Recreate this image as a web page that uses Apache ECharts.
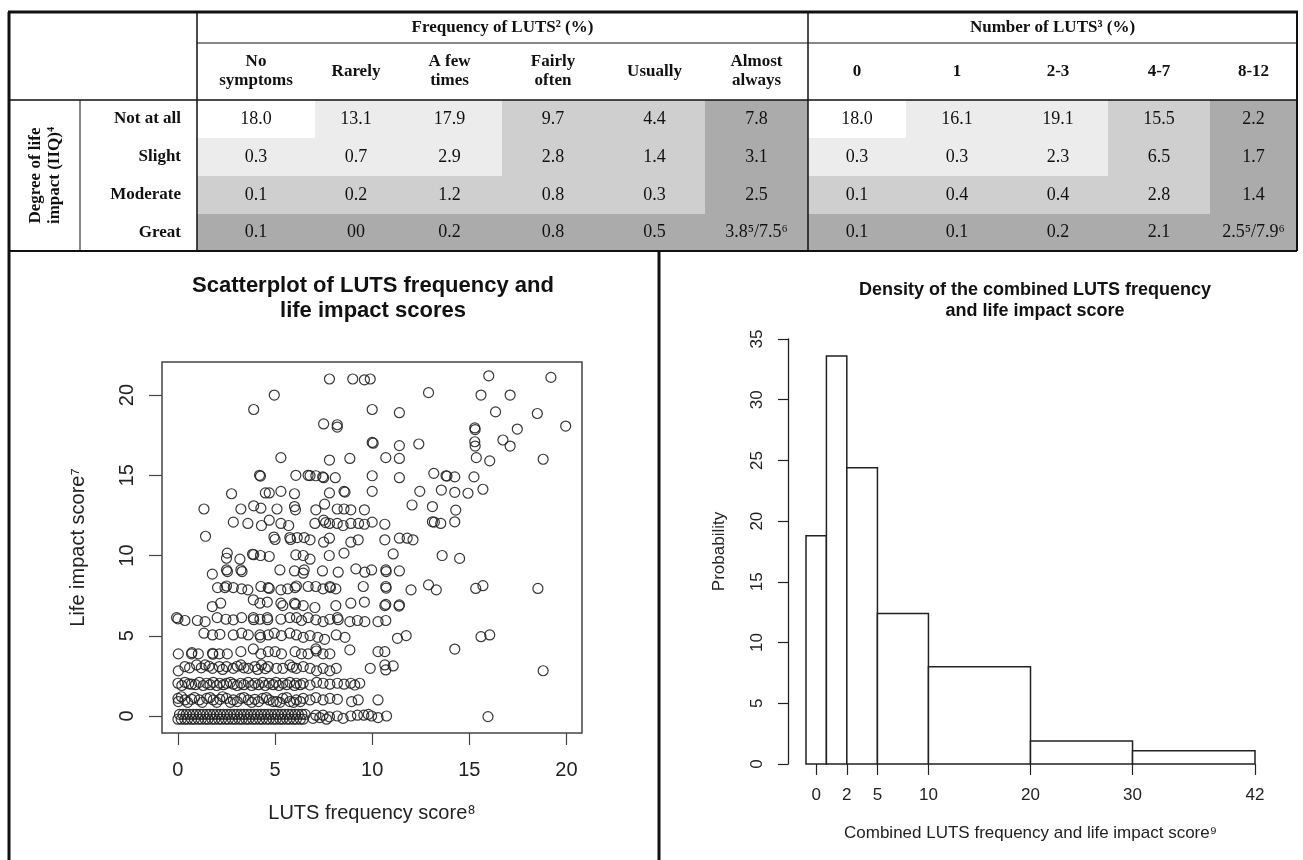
<!DOCTYPE html>
<html lang="en">
<head>
<meta charset="UTF-8">
<title>LUTS frequency and life impact</title>
<style>
    * { margin: 0; padding: 0; }
    html, body { width: 100%; height: 100%; background: #fff; }
    #main { width: 1303px; height: 860px; }
</style>
<script src="https://cdn.jsdelivr.net/npm/echarts@6/dist/echarts.min.js"></script>
</head>
<body>
<div id="main"></div>
<script>
// ---- table data ----
var freqGroupTitle = 'Frequency of LUTS² (%)';
var numGroupTitle = 'Number of LUTS³ (%)';
var freqHeaders = ['No\nsymptoms', 'Rarely', 'A few\ntimes', 'Fairly\noften', 'Usually', 'Almost\nalways'];
var numHeaders = ['0', '1', '2-3', '4-7', '8-12'];
var impactTitle = 'Degree of life\nimpact (IIQ)⁴';
var impactLevels = ['Not at all', 'Slight', 'Moderate', 'Great'];
var freqValues = [
    ['18.0', '13.1', '17.9', '9.7', '4.4', '7.8'],
    ['0.3', '0.7', '2.9', '2.8', '1.4', '3.1'],
    ['0.1', '0.2', '1.2', '0.8', '0.3', '2.5'],
    ['0.1', '00', '0.2', '0.8', '0.5', '3.8⁵/7.5⁶']
];
var numValues = [
    ['18.0', '16.1', '19.1', '15.5', '2.2'],
    ['0.3', '0.3', '2.3', '6.5', '1.7'],
    ['0.1', '0.4', '0.4', '2.8', '1.4'],
    ['0.1', '0.1', '0.2', '2.1', '2.5⁵/7.9⁶']
];
// shading level of each cell (0 = none ... 3 = darkest)
var freqShade = [[0, 1, 1, 2, 2, 3], [1, 1, 1, 2, 2, 3], [2, 2, 2, 2, 2, 3], [3, 3, 3, 3, 3, 3]];
var numShade = [[0, 1, 1, 2, 3], [1, 1, 1, 2, 3], [2, 2, 2, 2, 3], [3, 3, 3, 3, 3]];

// ---- scatterplot data (LUTS frequency score, life impact score) ----
var scatterTitle = 'Scatterplot of LUTS frequency and\nlife impact scores';
var scatterXName = 'LUTS frequency score⁸';
var scatterYName = 'Life impact score⁷';
var scatterXTicks = [0, 5, 10, 15, 20];
var scatterYTicks = [0, 5, 10, 15, 20];
var scatterPoints = [
    [7.8, 21.0], [9.0, 21.0], [9.6, 20.95], [9.9, 21.0], [4.96, 20.0], [12.9, 20.15], [16.0, 21.2], [19.2, 21.1], [15.6, 20.0], [17.1, 20.0],
    [3.9, 19.1], [10.0, 19.1], [11.4, 18.9], [16.35, 18.95], [18.5, 18.85],
    [7.5, 18.2], [8.2, 18.15], [8.2, 18.0], [15.28, 17.95], [15.3, 17.85], [17.47, 17.88], [19.96, 18.07],
    [10.0, 17.05], [10.05, 17.0], [11.4, 16.85], [12.4, 16.95], [15.28, 17.09], [15.3, 16.82], [16.73, 17.2], [17.1, 16.82],
    [5.3, 16.1], [7.8, 15.95], [8.85, 16.05], [10.7, 16.1], [11.4, 16.05], [15.36, 16.1], [16.05, 15.9], [18.8, 16.0],
    [4.2, 15.0], [4.25, 14.95], [6.07, 15.0], [6.7, 15.0], [6.8, 14.98], [7.1, 14.97], [7.5, 14.85], [7.45, 14.9], [8.1, 14.85], [10.0, 14.97], [11.4, 14.85], [13.17, 15.12], [13.8, 14.97], [13.85, 14.95], [14.25, 14.9], [15.24, 14.9],
    [2.76, 13.85], [4.5, 13.9], [4.7, 13.9], [5.3, 14.0], [6.0, 13.85], [7.8, 13.9], [8.55, 14.0], [8.6, 13.95], [10.0, 14.0], [12.45, 14.0], [13.56, 14.08], [14.25, 13.94], [14.93, 13.88], [15.7, 14.13],
    [1.34, 12.9], [3.24, 12.9], [3.9, 13.1], [4.27, 12.95], [5.1, 12.9], [6.0, 13.05], [6.05, 12.85], [7.1, 12.85], [7.55, 13.2], [8.2, 12.9], [8.55, 12.9], [8.9, 12.85], [9.6, 12.85], [12.05, 13.15], [13.1, 13.05], [14.3, 12.83],
    [2.85, 12.08], [3.6, 12.0], [4.3, 11.87], [4.7, 12.2], [5.3, 12.0], [5.7, 11.87], [7.05, 12.0], [7.5, 12.2], [7.6, 12.05], [7.8, 12.0], [8.2, 12.0], [8.5, 11.87], [8.9, 12.0], [9.3, 12.0], [9.6, 11.95], [10.0, 12.08], [10.65, 11.95], [13.1, 12.1], [13.2, 12.08], [13.53, 12.0], [14.25, 12.1],
    [1.42, 11.2], [4.94, 11.15], [5.0, 11.0], [5.76, 11.12], [5.8, 11.0], [6.14, 11.12], [6.5, 11.12], [6.8, 10.98], [7.5, 10.83], [7.8, 11.08], [8.9, 10.83], [9.28, 10.98], [10.65, 10.98], [11.4, 11.08], [11.8, 11.08], [12.1, 10.98],
    [2.54, 10.15], [2.5, 9.83], [3.19, 9.77], [3.84, 10.08], [3.9, 10.05], [4.25, 10.0], [4.7, 9.94], [6.07, 10.04], [6.45, 10.0], [6.8, 9.77], [7.79, 10.0], [8.55, 10.15], [11.08, 10.1], [13.6, 10.0], [14.5, 9.82],
    [1.77, 8.84], [2.5, 9.1], [2.55, 9.0], [3.24, 9.1], [3.3, 9.0], [5.25, 9.1], [6.0, 9.04], [6.5, 9.1], [6.45, 8.9], [7.44, 9.04], [8.25, 8.96], [9.16, 9.17], [9.62, 8.96], [9.97, 9.1], [10.7, 9.1], [10.72, 9.0], [11.4, 9.04],
    [2.04, 8.0], [2.42, 8.0], [2.5, 8.1], [2.85, 8.0], [3.28, 7.92], [3.6, 7.86], [4.27, 8.07], [4.65, 8.0], [4.7, 7.95], [5.3, 7.86], [5.65, 7.92], [6.03, 8.0], [6.1, 8.1], [6.7, 8.07], [7.1, 8.07], [7.47, 7.92], [7.82, 8.07], [7.85, 8.0], [8.13, 7.92], [9.54, 8.07], [10.7, 8.07], [10.72, 7.97], [12.0, 7.86], [12.9, 8.17], [13.3, 7.86], [15.33, 7.95], [15.7, 8.12], [18.53, 7.95],
    [1.77, 6.82], [2.2, 7.03], [3.88, 7.24], [4.22, 7.03], [4.6, 7.1], [5.3, 7.03], [5.4, 6.88], [6.0, 7.03], [6.05, 6.95], [6.45, 6.88], [7.05, 6.76], [8.13, 6.88], [8.9, 7.03], [9.6, 7.1], [10.65, 6.88], [10.7, 6.95], [11.4, 6.92], [11.38, 6.85],
    [-0.07, 6.13], [0.0, 6.05], [0.36, 5.95], [1.0, 5.95], [1.4, 5.88], [2.02, 6.13], [2.47, 6.03], [2.85, 5.99], [3.28, 6.13], [3.88, 6.13], [3.9, 6.0], [4.22, 6.03], [4.6, 6.13], [4.62, 6.0], [5.3, 6.03], [5.76, 6.13], [6.1, 6.13], [6.36, 5.95], [6.7, 6.13], [7.1, 5.99], [7.47, 5.88], [7.82, 6.03], [8.21, 6.13], [8.25, 6.0], [8.85, 5.88], [9.24, 5.95], [9.62, 5.88], [10.3, 5.88], [10.7, 5.95],
    [1.34, 5.16], [1.78, 5.05], [2.16, 5.09], [2.85, 5.05], [3.28, 5.16], [3.62, 5.05], [4.22, 5.05], [4.25, 4.9], [4.65, 5.05], [4.96, 5.16], [5.33, 5.01], [5.76, 5.16], [6.1, 5.05], [6.45, 4.9], [6.8, 5.01], [7.2, 4.9], [7.55, 4.78], [8.15, 5.05], [8.6, 4.9], [11.3, 4.84], [11.75, 5.01], [15.6, 4.94], [16.05, 5.05],
    [0.02, 3.87], [0.7, 3.87], [0.72, 3.95], [1.05, 3.87], [1.78, 3.91], [1.8, 3.85], [2.13, 3.87], [2.54, 3.87], [3.24, 4.01], [3.88, 4.18], [4.27, 3.87], [4.65, 4.01], [5.0, 4.01], [5.33, 3.87], [6.03, 4.01], [6.36, 3.87], [6.7, 3.87], [7.1, 4.18], [7.12, 4.05], [7.47, 3.87], [7.82, 3.87], [8.85, 4.12], [10.3, 4.01], [10.65, 4.01], [14.25, 4.17],
    [0.02, 2.81], [0.36, 3.08], [0.6, 3.0], [0.96, 3.18], [1.2, 3.0], [1.4, 3.18], [1.6, 3.1], [1.78, 2.97], [2.13, 3.08], [2.3, 2.9], [2.5, 3.08], [2.85, 2.97], [3.05, 3.1], [3.24, 3.18], [3.4, 3.0], [3.62, 2.97], [3.96, 3.08], [4.1, 2.9], [4.3, 3.18], [4.5, 2.95], [4.65, 3.08], [5.08, 2.97], [5.4, 2.97], [5.76, 3.18], [5.9, 3.05], [6.1, 2.97], [6.45, 3.08], [6.8, 2.97], [7.14, 2.81], [7.47, 2.97], [7.82, 2.81], [8.15, 2.97], [9.9, 2.97], [10.65, 3.18], [10.7, 2.87], [11.08, 3.12], [18.8, 2.82],
    [0.0, 2.04], [0.36, 2.1], [0.7, 1.98], [1.1, 2.1], [1.48, 2.04], [1.82, 2.1], [2.16, 2.04], [2.5, 2.04], [2.85, 1.98], [3.24, 2.04], [3.62, 2.1], [3.96, 2.04], [4.36, 2.1], [4.7, 2.04], [5.04, 2.1], [5.4, 2.04], [5.76, 2.1], [6.1, 2.04], [6.45, 2.04], [6.8, 1.93], [7.14, 2.1], [7.47, 2.04], [7.82, 1.98], [8.21, 2.04], [8.55, 1.98], [8.9, 2.04], [9.1, 1.93], [9.36, 2.04],
    [0.2, 1.9], [0.55, 2.0], [0.9, 1.95], [1.3, 1.9], [1.65, 1.95], [2.0, 1.9], [2.35, 1.95], [2.7, 2.1], [3.05, 1.9], [3.4, 1.95], [3.8, 1.9], [4.15, 1.95], [4.5, 1.9], [4.9, 1.95], [5.2, 1.9], [5.6, 1.95], [6.0, 1.9], [6.3, 1.95],
    [0.0, 1.1], [0.02, 0.9], [0.36, 1.0], [0.7, 1.04], [1.1, 1.0], [1.48, 1.1], [1.82, 1.0], [2.16, 1.04], [2.5, 1.1], [2.85, 1.0], [3.24, 1.1], [3.62, 1.0], [3.96, 1.04], [4.36, 1.1], [4.7, 1.0], [5.08, 0.9], [5.4, 1.1], [5.76, 0.9], [6.1, 1.0], [6.45, 1.1], [6.8, 1.0], [7.47, 1.0], [7.82, 1.1], [8.21, 1.04], [8.94, 0.9], [9.28, 1.0], [10.3, 1.0],
    [0.18, 1.2], [0.5, 0.85], [0.85, 1.15], [1.25, 0.85], [1.65, 1.15], [2.0, 0.85], [2.3, 1.2], [2.7, 0.85], [3.05, 0.9], [3.4, 1.15], [3.8, 0.85], [4.15, 0.9], [4.55, 1.15], [4.9, 0.9], [5.25, 0.85], [5.6, 1.15], [5.95, 0.85], [6.3, 0.9], [7.1, 1.15],
    [0.0, -0.2], [0.17, -0.2], [0.35, -0.2], [0.5, -0.2], [0.7, -0.2], [0.85, -0.2], [1.05, -0.2], [1.2, -0.2], [1.4, -0.2], [1.55, -0.2], [1.75, -0.2], [1.9, -0.2], [2.1, -0.2], [2.25, -0.2], [2.45, -0.2], [2.6, -0.2], [2.8, -0.2], [2.95, -0.2], [3.15, -0.2],
    [3.3, -0.2], [3.5, -0.2], [3.65, -0.2], [3.85, -0.2], [4.0, -0.2], [4.2, -0.2], [4.35, -0.2], [4.55, -0.2], [4.7, -0.2], [4.9, -0.2], [5.05, -0.2], [5.25, -0.2], [5.4, -0.2], [5.6, -0.2], [5.75, -0.2], [5.95, -0.2], [6.1, -0.2], [6.3, -0.2], [6.45, -0.2],
    [0.08, 0.1], [0.26, 0.1], [0.43, 0.1], [0.6, 0.1], [0.78, 0.1], [0.95, 0.1], [1.13, 0.1], [1.3, 0.1], [1.48, 0.1], [1.65, 0.1], [1.83, 0.1], [2.0, 0.1], [2.18, 0.1], [2.35, 0.1], [2.53, 0.1], [2.7, 0.1], [2.88, 0.1], [3.05, 0.1], [3.23, 0.1],
    [3.4, 0.1], [3.58, 0.1], [3.75, 0.1], [3.93, 0.1], [4.1, 0.1], [4.28, 0.1], [4.45, 0.1], [4.63, 0.1], [4.8, 0.1], [4.98, 0.1], [5.15, 0.1], [5.33, 0.1], [5.5, 0.1], [5.68, 0.1], [5.85, 0.1], [6.03, 0.1], [6.2, 0.1], [6.38, 0.1], [6.55, 0.1],
    [6.95, -0.15], [7.1, 0.05], [7.3, -0.1], [7.47, 0.05], [7.65, -0.2], [7.8, -0.05], [8.2, 0.0], [8.5, -0.15], [8.9, 0.0], [9.24, 0.05], [9.57, 0.05], [9.8, 0.1], [9.97, 0.0], [10.3, -0.1], [10.74, 0.0], [15.96, -0.04]
];

// ---- histogram data ----
var histTitle = 'Density of the combined LUTS frequency\nand life impact score';
var histXName = 'Combined LUTS frequency and life impact score⁹';
var histYName = 'Probability';
var histLower = [-2, 0, 2, 5, 10, 20, 30];
var histUpper = [0, 2, 5, 10, 20, 30, 42];
var histProb = [18.8, 33.6, 24.4, 12.4, 8.0, 1.9, 1.1];
var histTickAt = [-1, 2, 5, 10, 20, 30, 42];
var histTickLabels = ['0', '2', '5', '10', '20', '30', '42'];

// ---- page / table layout (page pixels) ----
var serif = '"Liberation Serif", "Times New Roman", serif';
var sans = '"Liberation Sans", Arial, sans-serif';
var shadeColors = ['#ffffff', '#ececec', '#cfcfcf', '#ababab'];
var colX = [10, 80, 197, 315, 397, 502, 604, 705, 808, 906, 1008, 1108, 1210, 1297];
var rowY = [12, 43, 100, 138, 176, 214, 251];

var tableCells = [];
tableCells.push({ x0: colX[2], x1: colX[8], y0: rowY[0], y1: rowY[1], text: freqGroupTitle, bold: true, size: 17 });
tableCells.push({ x0: colX[8], x1: colX[13], y0: rowY[0], y1: rowY[1], text: numGroupTitle, bold: true, size: 17 });
freqHeaders.forEach(function (h, j) {
    tableCells.push({ x0: colX[2 + j], x1: colX[3 + j], y0: rowY[1], y1: rowY[2], text: h, bold: true, size: 17 });
});
numHeaders.forEach(function (h, j) {
    tableCells.push({ x0: colX[8 + j], x1: colX[9 + j], y0: rowY[1], y1: rowY[2], text: h, bold: true, size: 17 });
});
tableCells.push({ x0: colX[0], x1: colX[1], y0: rowY[2], y1: rowY[6], text: impactTitle, bold: true, size: 17, rotate: true });
impactLevels.forEach(function (lab, i) {
    tableCells.push({ x0: colX[1], x1: colX[2], y0: rowY[2 + i], y1: rowY[3 + i], text: lab, bold: true, size: 17, align: 'right' });
    freqValues[i].forEach(function (v, j) {
        tableCells.push({ x0: colX[2 + j], x1: colX[3 + j], y0: rowY[2 + i], y1: rowY[3 + i], text: v, size: 18, fill: shadeColors[freqShade[i][j]] });
    });
    numValues[i].forEach(function (v, j) {
        tableCells.push({ x0: colX[8 + j], x1: colX[9 + j], y0: rowY[2 + i], y1: rowY[3 + i], text: v, size: 18, fill: shadeColors[numShade[i][j]] });
    });
});

// rules: [x0, y0, x1, y1, width]
var tableRules = [
    [8, rowY[0], 1298, rowY[0], 3],
    [9, rowY[0], 9, 860, 3],
    [1297, rowY[0], 1297, rowY[6], 2],
    [colX[2], rowY[1], 1297, rowY[1], 1],
    [9, rowY[2], 1297, rowY[2], 1.5],
    [9, rowY[6], 1297, rowY[6], 2],
    [colX[1], rowY[2], colX[1], rowY[6], 1],
    [colX[2], rowY[0], colX[2], rowY[6], 1.5],
    [colX[8], rowY[0], colX[8], rowY[6], 1.5],
    [659, rowY[6], 659, 860, 3]
];

function initChart() {
    var chart = echarts.init(document.getElementById('main'));

    function renderCell(params, api) {
        var c = tableCells[params.dataIndex];
        var p0 = api.coord([c.x0, c.y0]);
        var p1 = api.coord([c.x1, c.y1]);
        var children = [];
        if (c.fill) {
            children.push({
                type: 'rect',
                shape: { x: p0[0], y: p0[1], width: p1[0] - p0[0], height: p1[1] - p0[1] },
                style: { fill: c.fill }
            });
        }
        children.push({
            type: 'text',
            x: c.align === 'right' ? p1[0] - 16 : (p0[0] + p1[0]) / 2,
            y: (p0[1] + p1[1]) / 2,
            rotation: c.rotate ? Math.PI / 2 : 0,
            style: {
                text: c.text,
                align: c.align || 'center',
                verticalAlign: 'middle',
                fontFamily: serif,
                fontSize: c.size,
                fontWeight: c.bold ? 'bold' : 'normal',
                lineHeight: c.size + 2,
                fill: '#111'
            }
        });
        return { type: 'group', children: children };
    }

    function renderRule(params, api) {
        var r = tableRules[params.dataIndex];
        var p0 = api.coord([r[0], r[1]]);
        var p1 = api.coord([r[2], r[3]]);
        return {
            type: 'line',
            shape: { x1: p0[0], y1: p0[1], x2: p1[0], y2: p1[1] },
            style: { stroke: '#111', lineWidth: r[4] }
        };
    }

    function renderBin(params, api) {
        var p0 = api.coord([api.value(0), api.value(2)]);
        var p1 = api.coord([api.value(1), 0]);
        return {
            type: 'rect',
            shape: { x: p0[0], y: p0[1], width: p1[0] - p0[0], height: p1[1] - p0[1] },
            style: { fill: '#fff', stroke: '#222', lineWidth: 1.5 }
        };
    }

    var tickText = { color: '#222', fontFamily: sans };

    var option = {
        animation: false,
        backgroundColor: '#fff',
        title: [{
            text: scatterTitle,
            left: 368,
            top: 268,
            textAlign: 'center',
            textStyle: { fontFamily: sans, fontSize: 22, fontWeight: 'bold', color: '#111', lineHeight: 25 }
        }, {
            text: histTitle,
            left: 1030,
            top: 275,
            textAlign: 'center',
            textStyle: { fontFamily: sans, fontSize: 18, fontWeight: 'bold', color: '#111', lineHeight: 21 }
        }],
        grid: [
            { left: 0, top: 0, width: 1303, height: 860, show: false },
            { left: 162, top: 362, width: 420, height: 371, show: true, borderColor: '#444', borderWidth: 1.5, backgroundColor: 'transparent' },
            { left: 806, top: 339, width: 449, height: 425, show: false }
        ],
        xAxis: [{
            gridIndex: 0, type: 'value', min: 0, max: 1303, show: false
        }, {
            gridIndex: 1, type: 'value', min: -0.82, max: 20.8,
            axisLine: { show: false, onZero: false },
            splitLine: { show: false },
            axisTick: { show: true, customValues: scatterXTicks, length: 12, lineStyle: { color: '#444', width: 1.2 } },
            axisLabel: Object.assign({ customValues: scatterXTicks, fontSize: 20, margin: 27 }, tickText),
            name: scatterXName,
            nameLocation: 'middle',
            nameGap: 70,
            nameTextStyle: { fontFamily: sans, fontSize: 20, color: '#222' }
        }, {
            gridIndex: 2, type: 'value', min: -2, max: 42,
            axisLine: { show: false, onZero: false },
            splitLine: { show: false },
            axisTick: { show: true, customValues: histTickAt, length: 11, lineStyle: { color: '#222', width: 1.2 } },
            axisLabel: Object.assign({
                customValues: histTickAt, fontSize: 17, margin: 23,
                formatter: function (v) { return histTickLabels[histTickAt.indexOf(v)]; }
            }, tickText),
            name: histXName,
            nameLocation: 'middle',
            nameGap: 61,
            nameTextStyle: { fontFamily: sans, fontSize: 17, color: '#222' }
        }],
        yAxis: [{
            gridIndex: 0, type: 'value', min: 0, max: 860, inverse: true, show: false
        }, {
            gridIndex: 1, type: 'value', min: -1.06, max: 22.06,
            axisLine: { show: false, onZero: false },
            splitLine: { show: false },
            axisTick: { show: true, customValues: scatterYTicks, length: 13, lineStyle: { color: '#444', width: 1.2 } },
            axisLabel: Object.assign({ customValues: scatterYTicks, fontSize: 20, margin: 25, rotate: 90 }, tickText),
            name: scatterYName,
            nameLocation: 'middle',
            nameGap: 74,
            nameTextStyle: { fontFamily: sans, fontSize: 20, color: '#222' }
        }, {
            gridIndex: 2, type: 'value', min: 0, max: 35, interval: 5,
            offset: 18,
            axisLine: { show: true, onZero: false, lineStyle: { color: '#222', width: 1.3 } },
            splitLine: { show: false },
            axisTick: { show: true, length: 10, lineStyle: { color: '#222', width: 1.2 } },
            axisLabel: Object.assign({ fontSize: 17, margin: 22, rotate: 90 }, tickText),
            name: histYName,
            nameLocation: 'middle',
            nameGap: 60,
            nameTextStyle: { fontFamily: sans, fontSize: 17, color: '#222' }
        }],
        series: [{
            type: 'custom',
            xAxisIndex: 0, yAxisIndex: 0,
            clip: false,
            silent: true,
            renderItem: renderCell,
            data: tableCells.map(function (c) { return [c.x0, c.y0]; }),
            z: 1
        }, {
            type: 'custom',
            xAxisIndex: 0, yAxisIndex: 0,
            clip: false,
            silent: true,
            renderItem: renderRule,
            data: tableRules.map(function (r) { return [r[0], r[1]]; }),
            z: 3
        }, {
            type: 'scatter',
            xAxisIndex: 1, yAxisIndex: 1,
            symbol: 'circle',
            symbolSize: 10,
            itemStyle: { color: 'rgba(0,0,0,0)', borderColor: '#222', borderWidth: 1.2, opacity: 0.9 },
            data: scatterPoints
        }, {
            type: 'custom',
            xAxisIndex: 2, yAxisIndex: 2,
            renderItem: renderBin,
            encode: { x: [0, 1], y: 2 },
            data: histProb.map(function (p, i) { return [histLower[i], histUpper[i], p]; })
        }]
    };
    chart.setOption(option);
}
initChart();
</script>
</body>
</html>
